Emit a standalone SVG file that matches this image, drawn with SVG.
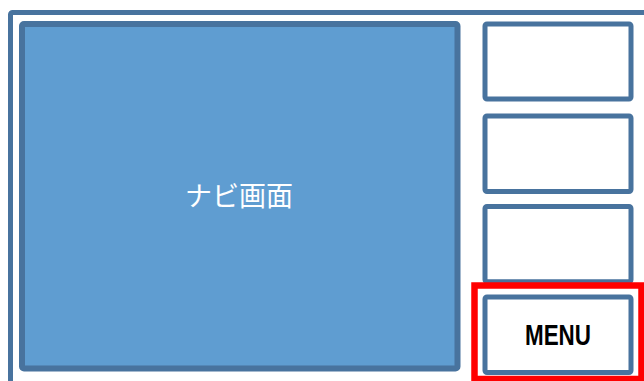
<svg xmlns="http://www.w3.org/2000/svg" width="644" height="381" viewBox="0 0 644 381">
<style>
.frame{fill:none;stroke:#48739E;stroke-width:5}
.nav{fill:#5F9DD1;stroke:#48739E;stroke-width:6}
.btn{fill:#FFFFFF;stroke:#48739E;stroke-width:5}
.hl{fill:none;stroke:#FF0000;stroke-width:6.5}
.navt{font-family:"Noto Sans CJK JP","Noto Sans",sans-serif;font-size:27px;fill:#FFFFFF}
.menut{font-family:"Liberation Sans",Arial,sans-serif;font-weight:bold;font-size:30px;fill:#000000}
</style>
<rect width="644" height="381" fill="#FFFFFF"/>
<g id="frame"><rect class="frame" x="10.5" y="12.5" width="660" height="400" rx="2"/></g>
<g id="nav">
<rect class="nav" x="22" y="24" width="435.5" height="344.5" rx="2"/>
<text class="navt" x="239" y="206" text-anchor="middle">ナビ画面</text>
</g>
<g id="btn1"><rect class="btn" x="485" y="24" width="146" height="75" rx="2"/></g>
<g id="btn2"><rect class="btn" x="485" y="116" width="146" height="75.5" rx="2"/></g>
<g id="btn3"><rect class="btn" x="485" y="206.5" width="146" height="75.3" rx="2"/></g>
<g id="menu">
<rect class="btn" x="485" y="297" width="146" height="75.5" rx="2"/>
<text class="menut" x="558" y="345" text-anchor="middle" textLength="66" lengthAdjust="spacingAndGlyphs">MENU</text>
</g>
<g id="highlight"><rect class="hl" x="474.5" y="285.5" width="167" height="93.5"/></g>
</svg>
